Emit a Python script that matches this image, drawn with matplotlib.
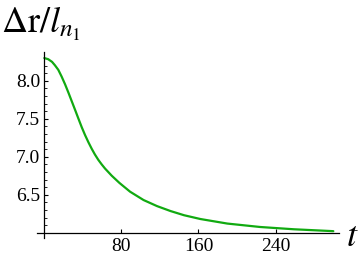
import numpy as np
import matplotlib
matplotlib.use("Agg")
import matplotlib.pyplot as plt
from matplotlib.ticker import FixedLocator

plt.rcParams["font.family"] = ["Liberation Serif", "DejaVu Serif"]
plt.rcParams["mathtext.fontset"] = "stix"

# values
t = [0, 4, 8, 11, 14.5, 18, 21.5, 25, 28.5, 32, 35.3, 38.8, 42.3, 45.8,
     49.2, 52.5, 56, 59.5, 63, 70, 78, 89, 103, 117, 131, 145, 162, 190,
     224, 259, 300]
dr = [8.30, 8.285, 8.25, 8.205, 8.145, 8.055, 7.955, 7.845, 7.73, 7.615,
      7.505, 7.39, 7.285, 7.19, 7.105, 7.03, 6.96, 6.90, 6.845, 6.75,
      6.655, 6.54, 6.43, 6.35, 6.285, 6.23, 6.18, 6.12, 6.075, 6.045, 6.02]

x_ticks = [80, 160, 240]
y_ticks = [6.5, 7.0, 7.5, 8.0]
y_minor = [6.1, 6.2, 6.3, 6.4, 6.6, 6.7, 6.8, 6.9, 7.1, 7.2, 7.3, 7.4,
           7.6, 7.7, 7.8, 7.9, 8.1, 8.2, 8.3]

fig = plt.figure(figsize=(3.6, 2.62), dpi=100)
ax = fig.add_axes([0.1036, 0.0916, 0.8384, 0.71])

ax.plot(t, dr, color="#11aa11", lw=1.6, solid_capstyle="round",
        solid_joinstyle="round")

ax.set_xlim(-7.3, 306)
ax.set_ylim(5.93, 8.38)

ax.spines["left"].set_position(("data", 0))
ax.spines["bottom"].set_position(("data", 6.0))
ax.spines["top"].set_visible(False)
ax.spines["right"].set_visible(False)
for s in ("left", "bottom"):
    ax.spines[s].set_linewidth(0.9)

ax.set_xticks(x_ticks)
ax.set_yticks(y_ticks)
ax.set_yticklabels(["6.5", "7.0", "7.5", "8.0"])
ax.yaxis.set_minor_locator(FixedLocator(y_minor))
ax.tick_params(which="major", direction="in", length=3.1, width=0.8,
               labelsize=14, pad=3)
ax.tick_params(which="minor", direction="in", length=1.8, width=0.6)
ax.tick_params(axis="x", pad=4)

fig.text(0.003, 0.874, r"$\Delta\mathrm{r}/l_{n_1}$", fontsize=26,
         ha="left", va="baseline")
fig.text(0.962, 0.062, r"$t$", fontsize=26, ha="left", va="baseline")

fig.savefig("out.png", dpi=100)
